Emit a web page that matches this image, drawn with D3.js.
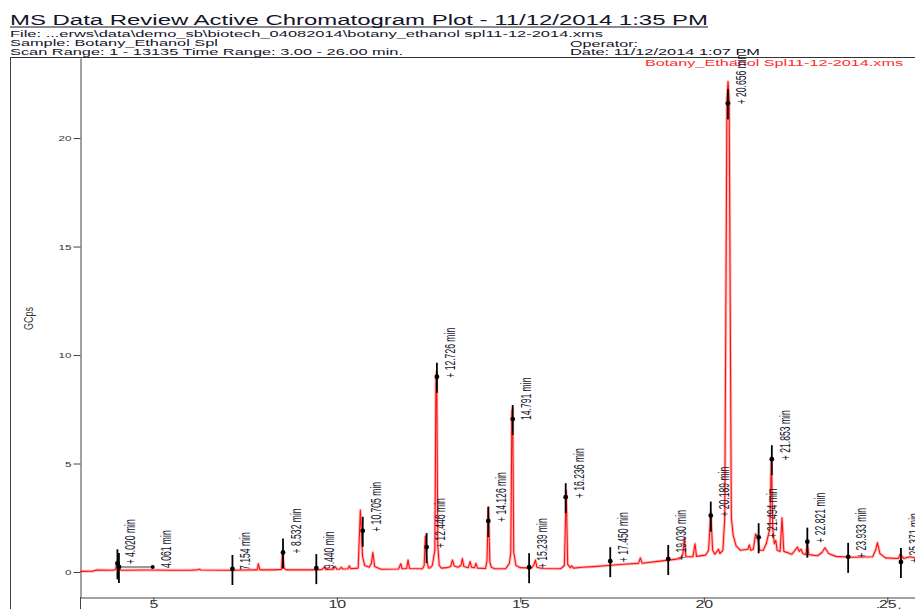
<!DOCTYPE html>
<html>
<head>
<meta charset="utf-8">
<script src="https://cdn.jsdelivr.net/npm/d3@7"></script>
<style>
  body { margin: 0; background: #fff; }
  svg { display: block; font-family: "Liberation Sans", Arial, sans-serif; }
</style>
</head>
<body>
<svg width="915" height="609"></svg>
<script>
// trace: [time (min), GCps]
var trace = [
  [3.00,0.03],[3.35,0.04],[3.45,0.09],[3.90,0.08],[3.97,0.12],[4.01,0.45],[4.06,0.14],[4.12,0.08],
  [4.80,0.09],[5.50,0.08],[6.00,0.08],[6.20,0.10],[6.25,0.13],[6.30,0.09],[7.00,0.08],[7.50,0.09],
  [7.83,0.10],[7.86,0.38],[7.90,0.10],[8.30,0.10],[8.49,0.12],[8.52,0.92],[8.56,0.18],[8.62,0.10],
  [9.40,0.10],[9.60,0.12],[9.66,0.22],[9.70,0.12],[9.90,0.13],[9.95,0.25],[10.00,0.13],[10.08,0.14],
  [10.12,0.22],[10.16,0.14],[10.30,0.15],[10.34,0.28],[10.38,0.15],[10.58,0.18],[10.64,2.85],[10.70,0.70],
  [10.76,0.30],[10.88,0.22],[10.94,0.40],[10.98,0.90],[11.03,0.25],[11.20,0.13],[11.68,0.14],[11.74,0.38],
  [11.78,0.15],[11.90,0.16],[11.94,0.55],[11.98,0.16],[12.33,0.15],[12.38,0.30],[12.41,1.65],[12.45,0.50],
  [12.50,0.18],[12.55,0.20],[12.60,0.30],[12.67,1.00],[12.70,9.00],[12.72,9.25],[12.75,1.20],[12.79,0.30],
  [12.85,0.18],[13.00,0.20],[13.10,0.25],[13.15,0.55],[13.20,0.28],[13.30,0.22],[13.38,0.30],[13.42,0.62],
  [13.46,0.25],[13.58,0.20],[13.63,0.48],[13.67,0.22],[13.75,0.20],[13.79,0.40],[13.83,0.18],[14.05,0.16],
  [14.09,0.50],[14.13,3.00],[14.17,0.45],[14.21,0.22],[14.30,0.15],[14.60,0.15],[14.70,0.40],[14.74,0.90],
  [14.77,7.40],[14.79,7.55],[14.82,0.90],[14.88,0.30],[15.00,0.20],[15.30,0.18],[15.36,0.30],[15.41,0.55],
  [15.45,0.22],[15.60,0.16],[16.10,0.15],[16.20,0.30],[16.25,3.75],[16.29,0.35],[16.36,0.20],[16.40,0.28],
  [16.45,0.18],[16.70,0.22],[17.00,0.25],[17.40,0.30],[17.80,0.36],[18.22,0.40],[18.27,0.65],[18.32,0.40],
  [18.80,0.50],[19.20,0.58],[19.38,0.62],[19.43,0.85],[19.47,1.55],[19.51,0.70],[19.70,0.70],[19.76,1.30],
  [19.80,0.72],[20.05,0.78],[20.13,1.00],[20.19,2.75],[20.24,1.00],[20.30,0.82],[20.36,0.95],[20.40,1.05],
  [20.44,0.85],[20.52,1.00],[20.57,2.50],[20.60,12.0],[20.63,21.8],[20.66,22.6],[20.69,21.8],[20.72,12.0],
  [20.75,2.50],[20.80,1.70],[20.88,1.20],[21.00,1.00],[21.20,1.05],[21.24,1.25],[21.28,1.00],[21.35,1.05],
  [21.41,1.75],[21.46,1.65],[21.52,1.00],[21.62,1.00],[21.70,1.30],[21.80,2.00],[21.84,5.25],[21.88,2.00],
  [21.92,1.30],[21.96,1.45],[22.00,1.00],[22.08,0.95],[22.13,2.50],[22.18,0.95],[22.40,0.82],[22.55,1.15],
  [22.60,0.95],[22.65,1.05],[22.70,0.85],[22.78,0.80],[22.82,1.30],[22.86,0.80],[23.10,0.75],[23.22,0.90],
  [23.30,1.12],[23.40,0.85],[23.60,0.72],[24.00,0.68],[24.60,0.70],[24.68,1.00],[24.73,1.35],[24.80,0.85],
  [24.95,0.65],[25.30,0.62],[25.35,0.82],[25.39,0.75],[25.45,0.62],[25.60,0.70],[25.75,0.66]
];

// peak annotations
var annTimes  = [4.020, 4.061, 7.154, 8.532, 9.440, 10.705, 12.446, 12.726, 14.126, 14.791, 15.239,
                 16.236, 17.450, 19.030, 20.189, 20.656, 21.494, 21.853, 22.821, 23.933, 25.371];
var annValues = [0.40, 0.23, 0.14, 0.90, 0.18, 1.90, 1.15, 9.00, 2.35, 7.05, 0.22,
                 3.45, 0.50, 0.60, 2.60, 21.6, 1.60, 5.20, 1.40, 0.70, 0.46];
var annPlus   = [true, false, false, true, false, true, true, true, true, false, true,
                 true, true, true, true, true, true, true, true, true, true];
var annLeader = [null, 4.98, null, null, null, null, null, null, null, null, null,
                 null, null, null, null, null, null, null, null, null, null];

var xTicks = [5, 10, 15, 20, 25];
var yTicks = [0, 5, 10, 15, 20];

var header = [
  {t: "MS Data Review Active Chromatogram Plot - 11/12/2014 1:35 PM", x: 10, y: 25, w: 698, s: 14},
  {t: "File: ...erws\\data\\demo_sb\\biotech_04082014\\botany_ethanol spl11-12-2014.xms", x: 10, y: 37, w: 593, s: 8.5},
  {t: "Sample: Botany_Ethanol Spl", x: 10, y: 46, w: 208, s: 8.5},
  {t: "Scan Range: 1 - 13135 Time Range: 3.00 - 26.00 min.", x: 10, y: 55, w: 393, s: 8.5},
  {t: "Operator:", x: 570, y: 46.5, w: 68, s: 8.5},
  {t: "Date: 11/12/2014 1:07 PM", x: 570, y: 55, w: 190, s: 8.5}
];

var svg = d3.select("svg");
var SX = 1.45;  // the picture is stretched sideways
var SXR = 1.65; // same for the rotated peak labels

var x = d3.scaleLinear().domain([3, 26]).range([80, 924]);
var y = d3.scaleLinear().domain([-1.152, 23.69]).range([597, 58]);

// header
svg.selectAll(".hdr")
  .data(header)
  .enter().append("text")
  .attr("class", "hdr")
  .attr("x", function(d) { return d.x; })
  .attr("y", function(d) { return d.y; })
  .attr("textLength", function(d) { return d.w; })
  .attr("lengthAdjust", "spacingAndGlyphs")
  .style("font-size", function(d) { return d.s + "px"; })
  .style("fill", "#14142a")
  .text(function(d) { return d.t; });

svg.append("line").attr("x1", 10).attr("x2", 708).attr("y1", 27).attr("y2", 27)
  .attr("stroke", "#14142a").attr("stroke-width", 1);
svg.append("line").attr("x1", 10).attr("x2", 915).attr("y1", 57.5).attr("y2", 57.5)
  .attr("stroke", "#333").attr("stroke-width", 1);
svg.append("line").attr("x1", 10.5).attr("x2", 10.5).attr("y1", 57).attr("y2", 609)
  .attr("stroke", "#444").attr("stroke-width", 1);

// axes
var gy = svg.append("g")
  .attr("transform", "translate(80.5,0)")
  .call(d3.axisLeft(y).tickValues(yTicks).tickSize(7).tickSizeOuter(0));
gy.select(".domain").attr("stroke", "#444");
gy.selectAll(".tick line").attr("stroke", "#444");
gy.selectAll(".tick text")
  .attr("x", -9 / SX)
  .attr("transform", "scale(" + SX + ",1)")
  .style("font-size", "8px")
  .style("fill", "#333");

var gx = svg.append("g")
  .attr("transform", "translate(0,597.5)")
  .call(d3.axisBottom(x).tickValues(xTicks).tickSize(5).tickSizeOuter(0));
gx.select(".domain").attr("stroke", "#444");
gx.selectAll(".tick line").attr("stroke", "#444");
gx.selectAll(".tick text")
  .attr("y", 3)
  .attr("transform", "scale(" + SX + ",1)")
  .style("font-size", "11px")
  .style("fill", "#333");

svg.append("line").attr("x1", 80.5).attr("x2", 80.5).attr("y1", 597).attr("y2", 609)
  .attr("stroke", "#444");

svg.append("text")
  .attr("transform", "translate(863,615) scale(" + SX + ",1)")
  .style("font-size", "11px").style("fill", "#333")
  .text("minutes");

svg.append("text")
  .attr("transform", "translate(33,330) scale(" + SX + ",1) rotate(-90)")
  .style("font-size", "9px").style("fill", "#333")
  .text("GCps");

// legend
svg.append("text")
  .attr("x", 645).attr("y", 66)
  .attr("textLength", 258).attr("lengthAdjust", "spacingAndGlyphs")
  .style("font-size", "8.5px").style("fill", "#ff2a2a")
  .text("Botany_Ethanol Spl11-12-2014.xms");

// trace
var line = d3.line()
  .x(function(d) { return x(d[0]); })
  .y(function(d) { return y(d[1]); });

svg.append("path").datum(trace)
  .attr("d", line).attr("fill", "none")
  .attr("stroke", "#ff6b6b").attr("stroke-width", 3).attr("opacity", 0.45)
  .attr("stroke-linejoin", "round");
svg.append("path").datum(trace)
  .attr("d", line).attr("fill", "none")
  .attr("stroke", "#ff1010").attr("stroke-width", 1.1)
  .attr("stroke-linejoin", "round");

// annotations
var ann = annTimes.map(function(t, i) {
  return {t: t, v: annValues[i], plus: annPlus[i], lead: annLeader[i]};
});

var ga = svg.append("g").selectAll(".ann")
  .data(ann)
  .enter().append("g")
  .attr("class", "ann");

ga.append("line")
  .attr("x1", function(d) { return x(d.t); })
  .attr("x2", function(d) { return x(d.t); })
  .attr("y1", function(d) { return y(d.v) - 14; })
  .attr("y2", function(d) { return y(d.v) + 16; })
  .attr("stroke", "#000").attr("stroke-width", 1.8);

ga.filter(function(d) { return d.lead; }).append("line")
  .attr("x1", function(d) { return x(d.t); })
  .attr("x2", function(d) { return x(d.lead); })
  .attr("y1", function(d) { return y(d.v); })
  .attr("y2", function(d) { return y(d.v); })
  .attr("stroke", "#000").attr("stroke-width", 0.8);

ga.filter(function(d) { return d.lead; }).append("circle")
  .attr("cx", function(d) { return x(d.lead); })
  .attr("cy", function(d) { return y(d.v); })
  .attr("r", 2).attr("fill", "#000");

ga.append("circle")
  .attr("cx", function(d) { return x(d.t); })
  .attr("cy", function(d) { return y(d.v); })
  .attr("r", 2.4).attr("fill", "#000");

ga.append("text")
  .attr("transform", function(d) {
    var px = x(d.lead || d.t) + 18;
    return "translate(" + px + "," + (y(d.v) + 1) + ") scale(" + SXR + ",1) rotate(-90)";
  })
  .style("font-size", "8.6px")
  .style("fill", "#14142a")
  .text(function(d) { return (d.plus ? "+ " : "") + d.t.toFixed(3) + " min"; });
</script>
</body>
</html>
